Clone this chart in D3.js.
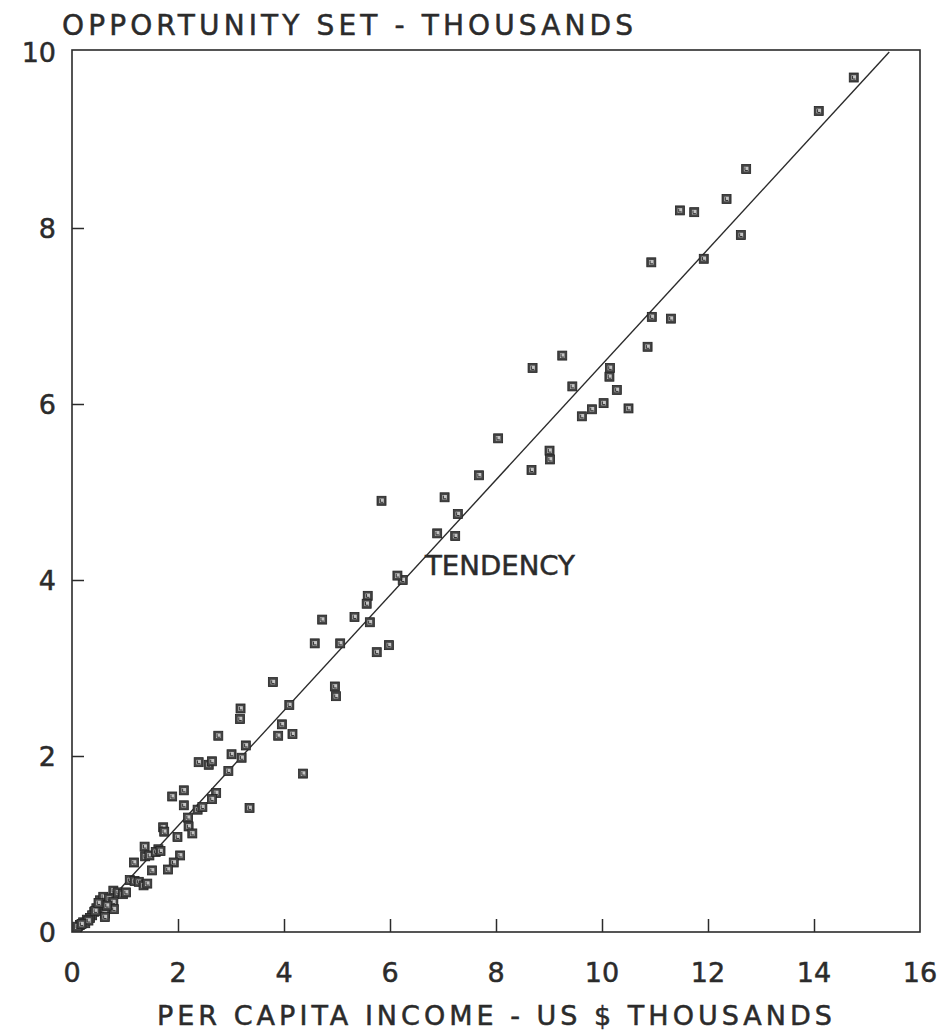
<!DOCTYPE html>
<html>
<head>
<meta charset="utf-8">
<script src="https://cdn.jsdelivr.net/npm/d3@7"></script>
<style>
  body { margin: 0; background: #fff; }
  text { font-family: "DejaVu Sans", "Liberation Sans", Arial, sans-serif; fill: #2b2b2b; stroke: #2b2b2b; stroke-width: 0.5px; }
</style>
</head>
<body>
<svg id="chart" width="940" height="1031"></svg>
<script>
// per capita income (x) and opportunity set (y), US $ thousands
const incomeX = [
  14.75, 14.09, 12.72, 12.35, 11.47, 11.74, 12.62, 11.92, 10.93, 10.94, 11.30, 10.86, 10.15, 10.14,
  9.25, 8.69, 9.44, 10.28, 10.03, 9.81, 10.50, 9.62, 8.04, 9.01, 9.02, 7.68, 8.67, 7.03, 7.28, 6.89, 7.23, 6.24,
  5.84, 6.14, 5.58, 5.56, 4.72, 5.33, 5.62, 4.58, 5.06, 5.75, 5.98, 3.79, 4.96, 4.98, 4.10, 3.18, 3.17, 3.96,
  3.89, 4.16, 2.76, 3.28, 3.01, 3.20, 2.39, 2.58, 2.64, 2.95, 4.36, 2.11, 1.89, 2.72, 2.64,
  2.11, 2.37, 2.46, 3.35, 2.19, 2.20, 1.72, 1.74, 2.27, 1.99, 1.37, 1.63, 1.38, 1.46, 1.58, 1.67, 2.04,
  1.92, 1.81, 1.17, 1.51, 1.09, 1.18, 1.26, 1.35, 1.42, 0.78, 0.87, 0.96, 1.02, 0.53, 0.59, 0.70, 0.78,
  0.52, 0.58, 0.62, 0.79, 0.42, 0.62, 0.38, 0.34, 0.28, 0.21, 0.15, 0.10, 0.46, 0.66, 0.25, 0.31, 0.18, 0.44, 0.50
];
const opportunityY = [
  9.71, 9.33, 8.67, 8.33, 8.20, 8.18, 7.92, 7.65, 7.61, 6.99, 6.97, 6.65, 6.41, 6.31,
  6.55, 6.41, 6.20, 6.16, 6.01, 5.94, 5.95, 5.86, 5.61, 5.47, 5.37, 5.19, 5.25, 4.94, 4.75, 4.53, 4.50, 4.00,
  4.90, 4.05, 3.82, 3.73, 3.55, 3.58, 3.52, 3.28, 3.28, 3.18, 3.26, 2.84, 2.79, 2.68, 2.58, 2.54, 2.42, 2.36,
  2.23, 2.25, 2.23, 2.12, 2.02, 1.98, 1.93, 1.90, 1.94, 1.83, 1.80, 1.61, 1.54, 1.58, 1.51,
  1.44, 1.39, 1.42, 1.41, 1.30, 1.20, 1.19, 1.14, 1.12, 1.08, 0.97, 0.94, 0.86, 0.87, 0.91, 0.92, 0.87,
  0.79, 0.71, 0.79, 0.70, 0.59, 0.58, 0.57, 0.53, 0.55, 0.47, 0.45, 0.43, 0.45, 0.36, 0.40, 0.38, 0.34,
  0.31, 0.28, 0.21, 0.26, 0.23, 0.17, 0.19, 0.16, 0.14, 0.11, 0.08, 0.06, 0.27, 0.30, 0.10, 0.13, 0.09, 0.24, 0.33
];

// tendency line end points
const trendX = [0.16, 15.42];
const trendY = [0.0, 10.0];

const xTicks = [0, 2, 4, 6, 8, 10, 12, 14, 16];
const yTicks = [0, 2, 4, 6, 8, 10];

const titleText = 'OPPORTUNITY SET - THOUSANDS';
const xLabelText = 'PER CAPITA INCOME - US $ THOUSANDS';
const trendLabel = 'TENDENCY';
const trendLabelAt = [6.66, 4.06];

const svg = d3.select('#chart');

const xScale = d3.scaleLinear().domain([0, 16]).range([72, 920]);
const yScale = d3.scaleLinear().domain([0, 10]).range([932, 52]);

const ink = '#2b2b2b';

// frame
svg.append('rect')
  .attr('x', xScale(0))
  .attr('y', 50)
  .attr('width', xScale(16) - xScale(0))
  .attr('height', yScale(0) - 50)
  .attr('fill', 'none')
  .attr('stroke', ink)
  .attr('stroke-width', 1.6);

// x axis: inward ticks, labels below
const xAxis = d3.axisTop(xScale)
  .tickValues(xTicks.filter(d => d > 0 && d < 16))
  .tickSize(13)
  .tickFormat('');
svg.append('g')
  .attr('class', 'xAxis')
  .attr('transform', `translate(0,${yScale(0)})`)
  .call(xAxis)
  .call(g => g.select('.domain').remove())
  .selectAll('line')
  .attr('stroke', ink)
  .attr('stroke-width', 1.5);

svg.append('g')
  .selectAll('text')
  .data(xTicks)
  .enter().append('text')
  .attr('x', d => xScale(d))
  .attr('y', 982)
  .attr('text-anchor', 'middle')
  .style('font-size', '27px')
  .text(d => d);

// y axis: inward ticks, labels left
const yAxis = d3.axisRight(yScale)
  .tickValues(yTicks.filter(d => d > 0 && d < 10))
  .tickSize(12)
  .tickFormat('');
svg.append('g')
  .attr('class', 'yAxis')
  .attr('transform', `translate(${xScale(0)},0)`)
  .call(yAxis)
  .call(g => g.select('.domain').remove())
  .selectAll('line')
  .attr('stroke', ink)
  .attr('stroke-width', 1.5);

svg.append('g')
  .selectAll('text')
  .data(yTicks)
  .enter().append('text')
  .attr('x', 56)
  .attr('y', d => yScale(d))
  .attr('dy', '0.36em')
  .attr('text-anchor', 'end')
  .style('font-size', '27px')
  .text(d => d);

// titles
svg.append('text')
  .attr('x', 62)
  .attr('y', 35)
  .attr('textLength', 571)
  .attr('lengthAdjust', 'spacing')
  .style('font-size', '28px')
  .text(titleText);

svg.append('text')
  .attr('x', 157)
  .attr('y', 1025)
  .attr('textLength', 675)
  .attr('lengthAdjust', 'spacing')
  .style('font-size', '27px')
  .text(xLabelText);

// tendency line
const lineGenerator = d3.line()
  .x(d => xScale(d[0]))
  .y(d => yScale(d[1]));

svg.append('path')
  .attr('d', lineGenerator(d3.zip(trendX, trendY)))
  .attr('fill', 'none')
  .attr('stroke', ink)
  .attr('stroke-width', 1.4);

svg.append('text')
  .attr('x', xScale(trendLabelAt[0]))
  .attr('y', yScale(trendLabelAt[1]))
  .attr('textLength', 150)
  .attr('lengthAdjust', 'spacingAndGlyphs')
  .style('font-size', '27px')
  .text(trendLabel);

// points
const points = d3.zip(incomeX, opportunityY);
const size = 9;

const marks = svg.append('g')
  .selectAll('g')
  .data(points)
  .enter().append('g')
  .attr('transform', d => `translate(${xScale(d[0]) - size / 2},${yScale(d[1]) - size / 2})`);

marks.append('rect')
  .attr('width', size)
  .attr('height', size)
  .attr('fill', '#444')
  .attr('stroke', '#222')
  .attr('stroke-width', 0.8);

marks.append('rect')
  .attr('x', 2.2)
  .attr('y', 2.2)
  .attr('width', size - 4.4)
  .attr('height', size - 4.4)
  .attr('fill', '#c4c4c4');

marks.append('path')
  .attr('d', 'M3.3,2.8 V6 H6.2')
  .attr('fill', 'none')
  .attr('stroke', '#333')
  .attr('stroke-width', 1);
</script>
</body>
</html>
